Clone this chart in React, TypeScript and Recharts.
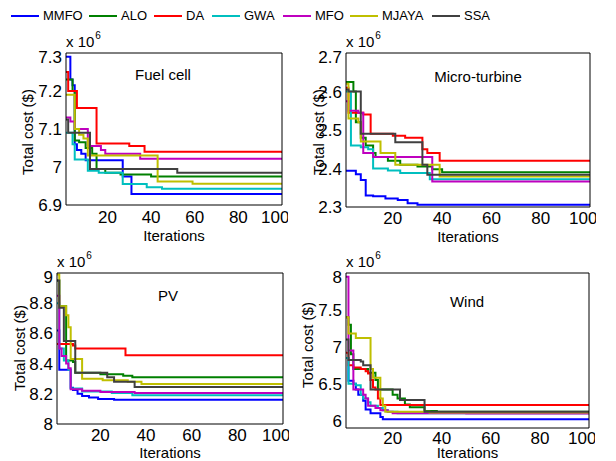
import React from 'react';
import { LineChart, Line, XAxis, YAxis } from 'recharts';

type Pt = [number, number];

// Legend / series
const seriesNames = ['MMFO', 'ALO', 'DA', 'GWA', 'MFO', 'MJAYA', 'SSA'];
const seriesColors = ['#0000ff', '#008000', '#ff0000', '#00bfbf', '#bf00bf', '#bfbf00', '#404040'];

// Fuel cell (x 10^6 $), [iteration, cost]
const fuelMMFO: Pt[] = [[1, 7.29], [3, 7.23], [4, 7.215], [5, 7.06], [6, 7.045], [8, 7.035], [10, 7.018], [27, 6.975], [31, 6.929], [100, 6.929]];
const fuelALO: Pt[] = [[1, 7.23], [4, 7.2], [5, 7.07], [7, 7.065], [10, 7.05], [13, 7.035], [15, 6.995], [19, 6.985], [26, 6.98], [40, 6.975], [100, 6.975]];
const fuelDA: Pt[] = [[1, 7.25], [2, 7.2], [6, 7.155], [15, 7.062], [30, 7.055], [37, 7.04], [100, 7.037]];
const fuelGWA: Pt[] = [[1, 7.09], [4, 7.06], [5, 7.02], [11, 6.99], [16, 6.985], [27, 6.955], [38, 6.947], [45, 6.943], [100, 6.943]];
const fuelMFO: Pt[] = [[1, 7.13], [3, 7.12], [5, 7.1], [11, 7.055], [17, 7.045], [19, 7.035], [35, 7.022], [100, 7.022]];
const fuelMJAYA: Pt[] = [[1, 7.19], [5, 7.1], [7, 7.085], [9, 7.075], [11, 7.03], [43, 6.962], [59, 6.956], [100, 6.956]];
const fuelSSA: Pt[] = [[1, 7.125], [2, 7.09], [12, 6.995], [52, 6.985], [100, 6.985]];

// Micro-turbine
const mtMMFO: Pt[] = [[1, 2.394], [5, 2.385], [7, 2.37], [9, 2.33], [12, 2.328], [17, 2.322], [22, 2.318], [26, 2.31], [30, 2.306], [100, 2.304]];
const mtALO: Pt[] = [[1, 2.625], [4, 2.6], [5, 2.52], [7, 2.48], [9, 2.46], [12, 2.44], [13, 2.43], [18, 2.42], [23, 2.41], [30, 2.405], [36, 2.398], [40, 2.39], [100, 2.39]];
const mtDA: Pt[] = [[1, 2.61], [2, 2.545], [8, 2.54], [11, 2.49], [20, 2.485], [25, 2.48], [32, 2.45], [34, 2.44], [39, 2.42], [100, 2.4195]];
const mtGWA: Pt[] = [[1, 2.6], [3, 2.46], [7, 2.455], [10, 2.45], [12, 2.4], [18, 2.395], [23, 2.388], [35, 2.372], [100, 2.372]];
const mtMFO: Pt[] = [[1, 2.575], [2, 2.55], [6, 2.545], [8, 2.44], [12, 2.43], [36, 2.366], [100, 2.366]];
const mtMJAYA: Pt[] = [[1, 2.62], [2, 2.53], [6, 2.52], [7, 2.47], [15, 2.44], [21, 2.41], [39, 2.379], [100, 2.379]];
const mtSSA: Pt[] = [[1, 2.605], [2, 2.6], [7, 2.49], [21, 2.468], [32, 2.41], [34, 2.384], [100, 2.384]];

// PV
const pvMMFO: Pt[] = [[1, 8.62], [2, 8.36], [7, 8.24], [8, 8.225], [10, 8.2], [12, 8.185], [15, 8.175], [19, 8.165], [26, 8.16], [100, 8.16]];
const pvALO: Pt[] = [[1, 8.95], [2, 8.78], [5, 8.42], [8, 8.41], [9, 8.34], [20, 8.33], [30, 8.32], [34, 8.31], [100, 8.31]];
const pvDA: Pt[] = [[1, 8.53], [8, 8.52], [9, 8.5], [31, 8.455], [100, 8.455]];
const pvGWA: Pt[] = [[1, 8.8], [2, 8.5], [4, 8.42], [6, 8.36], [7, 8.235], [12, 8.215], [25, 8.205], [34, 8.19], [100, 8.19]];
const pvMFO: Pt[] = [[1, 8.85], [2, 8.5], [3, 8.45], [5, 8.4], [6, 8.37], [7, 8.23], [12, 8.22], [20, 8.212], [35, 8.205], [100, 8.205]];
const pvMJAYA: Pt[] = [[1, 8.99], [2, 8.78], [5, 8.72], [6, 8.64], [7, 8.43], [12, 8.3], [21, 8.29], [32, 8.28], [38, 8.265], [100, 8.265]];
const pvSSA: Pt[] = [[1, 8.95], [2, 8.77], [4, 8.55], [9, 8.34], [23, 8.31], [26, 8.28], [35, 8.245], [100, 8.245]];

// Wind
const wMMFO: Pt[] = [[1, 6.85], [2, 6.54], [4, 6.5], [5, 6.42], [6, 6.35], [8, 6.27], [9, 6.15], [11, 6.1], [15, 6.05], [16, 6.02], [100, 6.02]];
const wALO: Pt[] = [[1, 7.4], [2, 7.3], [3, 6.9], [4, 6.7], [10, 6.65], [13, 6.55], [14, 6.42], [20, 6.35], [22, 6.3], [25, 6.22], [27, 6.18], [33, 6.13], [38, 6.12], [100, 6.12]];
const wDA: Pt[] = [[1, 6.92], [2, 6.75], [4, 6.72], [7, 6.7], [9, 6.67], [10, 6.64], [11, 6.55], [12, 6.45], [13, 6.42], [14, 6.3], [15, 6.21], [100, 6.21]];
const wGWA: Pt[] = [[1, 6.85], [2, 6.5], [5, 6.48], [7, 6.35], [8, 6.3], [10, 6.25], [11, 6.2], [14, 6.17], [16, 6.14], [18, 6.12], [22, 6.1], [100, 6.1]];
const wMFO: Pt[] = [[1, 7.95], [2, 6.95], [4, 6.42], [8, 6.35], [9, 6.3], [10, 6.2], [13, 6.17], [15, 6.14], [18, 6.12], [20, 6.1], [50, 6.095], [100, 6.095]];
const wMJAYA: Pt[] = [[1, 7.4], [2, 7.18], [5, 7.12], [11, 6.7], [12, 6.58], [15, 6.3], [16, 6.2], [17, 6.12], [35, 6.11], [100, 6.11]];
const wSSA: Pt[] = [[1, 7.1], [2, 6.82], [7, 6.8], [8, 6.75], [11, 6.42], [23, 6.28], [33, 6.12], [100, 6.12]];

const xTicks = [20, 40, 60, 80, 100];
const fuelTicks = [6.9, 7, 7.1, 7.2, 7.3];
const mtTicks = [2.3, 2.4, 2.5, 2.6, 2.7];
const pvTicks = [8, 8.2, 8.4, 8.6, 8.8, 9];
const windTicks = [6, 6.5, 7, 7.5, 8];

const FONT = '"Liberation Sans", Arial, Helvetica, sans-serif';

type PanelProps = {
  title: string;
  series: Pt[][];
  domain: [number, number];
  ticks: number[];
  box: { x: number; y: number; w: number; h: number };
  titlePos: [number, number];
  yLabelPos: [number, number];
  xLabelY: number;
  xTickMargin: number;
};

const ML = 60, MT = 6, MR = 6, MB = 32;

function Panel(p: PanelProps) {
  const { box } = p;
  const W = ML + box.w + MR;
  const H = MT + box.h + MB;
  const common = { fontFamily: FONT, color: '#000', position: 'absolute' as const, whiteSpace: 'nowrap' as const, lineHeight: 1 };
  return (
    <>
      <div style={{ position: 'absolute', left: box.x - ML, top: box.y - MT, width: W, height: H }}>
        <LineChart width={W} height={H} margin={{ top: MT, right: MR, bottom: 0, left: 0 }} style={{ fontFamily: FONT }}>
          <XAxis xAxisId="b" type="number" dataKey="it" domain={[1, 100]} ticks={xTicks} allowDataOverflow
            tickLine={false} tickSize={0} tickMargin={p.xTickMargin} height={MB}
            axisLine={{ stroke: '#000', strokeWidth: 1 }} tick={{ fill: '#000', fontSize: 17, fontFamily: FONT }} />
          <XAxis xAxisId="bm" type="number" dataKey="it" domain={[1, 100]} ticks={xTicks} allowDataOverflow mirror
            orientation="bottom" tick={false} tickSize={4} axisLine={false} tickLine={{ stroke: '#000' }} />
          <XAxis xAxisId="tm" type="number" dataKey="it" domain={[1, 100]} ticks={xTicks} allowDataOverflow mirror
            orientation="top" tick={false} tickSize={4} axisLine={{ stroke: '#000' }} tickLine={{ stroke: '#000' }} />
          <YAxis yAxisId="l" type="number" domain={p.domain} ticks={p.ticks} allowDataOverflow width={ML}
            tickLine={false} tickSize={0} tickMargin={4} axisLine={{ stroke: '#000' }}
            tick={{ fill: '#000', fontSize: 17, fontFamily: FONT }} tickFormatter={(v: number) => String(v)} />
          <YAxis yAxisId="lm" type="number" domain={p.domain} ticks={p.ticks} allowDataOverflow mirror
            orientation="left" tick={false} tickSize={4} axisLine={false} tickLine={{ stroke: '#000' }} />
          <YAxis yAxisId="rm" type="number" domain={p.domain} ticks={p.ticks} allowDataOverflow mirror
            orientation="right" tick={false} tickSize={4} axisLine={{ stroke: '#000' }} tickLine={{ stroke: '#000' }} />
          {p.series.map((s, i) => (
            <Line key={seriesNames[i]} xAxisId="b" yAxisId="l" data={s.map(([it, v]) => ({ it, v }))} dataKey="v"
              name={seriesNames[i]} type="stepAfter" stroke={seriesColors[i]} strokeWidth={2} dot={false}
              activeDot={false} isAnimationActive={false} />
          ))}
        </LineChart>
      </div>
      <div style={{ ...common, left: box.x, top: box.y - 19, fontSize: 15 }}>
        x 10<span style={{ fontSize: 10, position: 'relative', top: -8, marginLeft: 1 }}>6</span>
      </div>
      <div style={{ ...common, left: p.titlePos[0], top: p.titlePos[1], fontSize: 15, transform: 'translate(-50%, -50%)' }}>{p.title}</div>
      <div style={{ ...common, left: p.yLabelPos[0], top: p.yLabelPos[1], fontSize: 15, transform: 'translate(-50%, -50%) rotate(-90deg)' }}>Total cost ($)</div>
      <div style={{ ...common, left: box.x + box.w / 2, top: p.xLabelY, fontSize: 15, transform: 'translate(-50%, -50%)' }}>Iterations</div>
    </>
  );
}

const legendX = [11, 89, 154, 212, 283, 350, 432];

export default function App() {
  return (
    <div style={{ position: 'absolute', left: 0, top: 0, width: 616, height: 461, background: '#fff', overflow: 'hidden', fontFamily: FONT }}>
      {seriesNames.map((n, i) => (
        <div key={n} style={{ position: 'absolute', left: legendX[i], top: 7, height: 17, display: 'flex', alignItems: 'center' }}>
          <div style={{ width: 28, height: 2, background: seriesColors[i] }} />
          <span style={{ marginLeft: 4, fontSize: 13, fontFamily: FONT, color: '#000', lineHeight: 1 }}>{n}</span>
        </div>
      ))}
      <Panel title="Fuel cell" series={[fuelMMFO, fuelALO, fuelDA, fuelGWA, fuelMFO, fuelMJAYA, fuelSSA]}
        domain={[6.9, 7.3]} ticks={fuelTicks} box={{ x: 66, y: 53, w: 216, h: 152 }}
        titlePos={[163, 74]} yLabelPos={[27, 132]} xLabelY={235} xTickMargin={6} />
      <Panel title="Micro-turbine" series={[mtMMFO, mtALO, mtDA, mtGWA, mtMFO, mtMJAYA, mtSSA]}
        domain={[2.3, 2.7]} ticks={mtTicks} box={{ x: 346, y: 53, w: 244, h: 154 }}
        titlePos={[478, 76]} yLabelPos={[318, 132]} xLabelY={236} xTickMargin={5} />
      <Panel title="PV" series={[pvMMFO, pvALO, pvDA, pvGWA, pvMFO, pvMJAYA, pvSSA]}
        domain={[8, 9]} ticks={pvTicks} box={{ x: 57, y: 273, w: 226, h: 151 }}
        titlePos={[168, 295]} yLabelPos={[19, 348]} xLabelY={452} xTickMargin={5} />
      <Panel title="Wind" series={[wMMFO, wALO, wDA, wGWA, wMFO, wMJAYA, wSSA]}
        domain={[5.9, 8]} ticks={windTicks} box={{ x: 346, y: 273, w: 243, h: 155 }}
        titlePos={[467, 301]} yLabelPos={[307, 345]} xLabelY={452} xTickMargin={4} />
    </div>
  );
}
